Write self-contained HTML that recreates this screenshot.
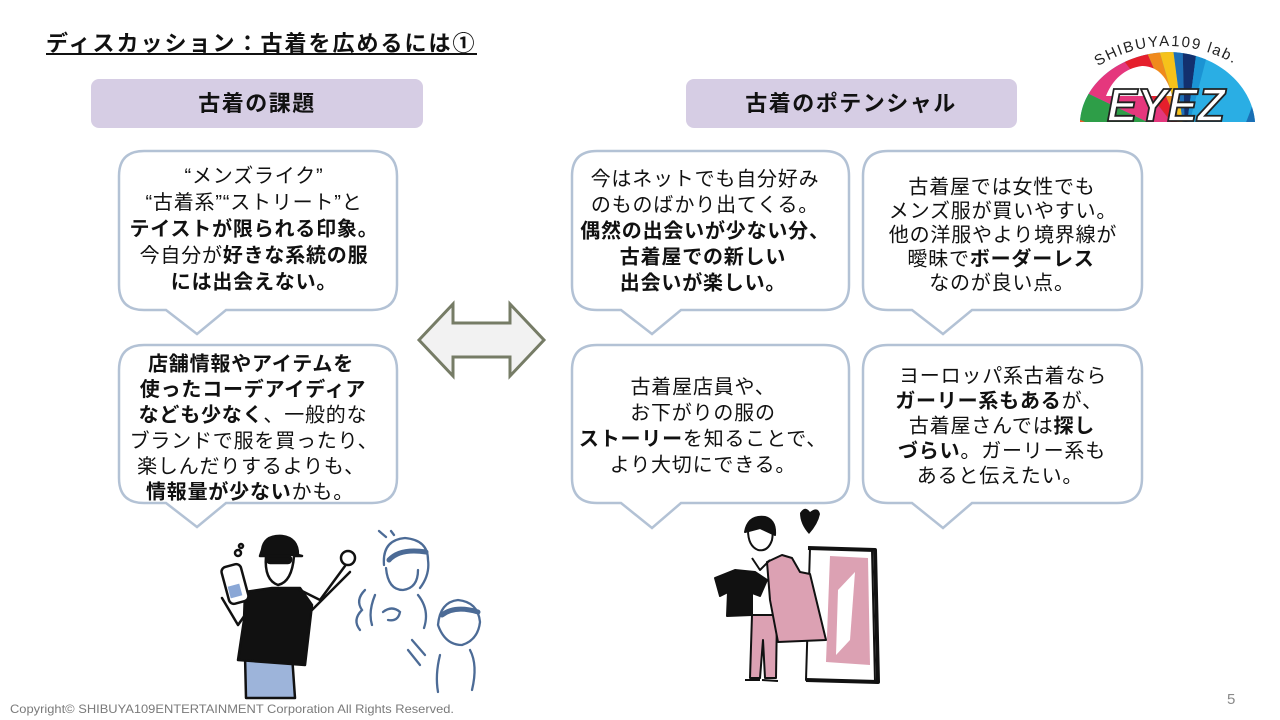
<!DOCTYPE html>
<html><head><meta charset="utf-8"><style>
html,body{margin:0;padding:0;background:#fff;}
svg{display:block;}
text{font-family:"Liberation Sans","Noto Sans CJK JP",sans-serif;}
.t{font-size:20px;letter-spacing:0.8px;fill:#111;text-anchor:middle;}
.b{font-weight:700;}
</style></head><body>
<svg width="1280" height="720" viewBox="0 0 1280 720" xmlns="http://www.w3.org/2000/svg">
<rect width="1280" height="720" fill="#fff"/>
<!-- title -->
<text x="46" y="51" style="font-size:22px;font-weight:700;letter-spacing:2px;fill:#111">ディスカッション：古着を広めるには①</text>
<rect x="46" y="53" width="431" height="2" fill="#111"/>
<!-- headers -->
<rect x="91" y="79" width="332" height="49" rx="8" fill="#d6cde4"/>
<text x="257" y="111" style="font-size:22px;font-weight:700;letter-spacing:1.5px;fill:#111;text-anchor:middle">古着の課題</text>
<rect x="686" y="79" width="331" height="49" rx="8" fill="#d6cde4"/>
<text x="851" y="111" style="font-size:22px;font-weight:700;letter-spacing:1.5px;fill:#111;text-anchor:middle">古着のポテンシャル</text>

<!-- bubbles -->
<g fill="#fff" stroke="#b3c2d5" stroke-width="2.5" stroke-linejoin="miter">
<path d="M144,151 H372 Q397,151 397,176 V285 Q397,310 372,310 H226 L197,334 L166,310 H144 Q119,310 119,285 V176 Q119,151 144,151 Z"/>
<path d="M144,345 H372 Q397,345 397,370 V478 Q397,503 372,503 H226 L197,527 L166,503 H144 Q119,503 119,478 V370 Q119,345 144,345 Z"/>
<path d="M597,151 H824 Q849,151 849,176 V285 Q849,310 824,310 H681 L652,334 L621,310 H597 Q572,310 572,285 V176 Q572,151 597,151 Z"/>
<path d="M597,345 H824 Q849,345 849,370 V478 Q849,503 824,503 H681 L652,528 L621,503 H597 Q572,503 572,478 V370 Q572,345 597,345 Z"/>
<path d="M888,151 H1117 Q1142,151 1142,176 V285 Q1142,310 1117,310 H972 L943,334 L912,310 H888 Q863,310 863,285 V176 Q863,151 888,151 Z"/>
<path d="M888,345 H1117 Q1142,345 1142,370 V478 Q1142,503 1117,503 H972 L943,528 L912,503 H888 Q863,503 863,478 V370 Q863,345 888,345 Z"/>
</g>

<!-- double arrow -->
<polygon points="419,340 453,304 453,323 510,323 510,304 544,340 510,376 510,357 453,357 453,376" fill="#f2f2f2" stroke="#767c66" stroke-width="3" stroke-linejoin="miter"/>

<!-- left top text -->
<text class="t" x="254" y="182.5">“メンズライク”</text>
<text class="t" x="254" y="209">“古着系”“ストリート”と</text>
<text class="t b" x="254" y="235.5">テイストが限られる印象。</text>
<text class="t" x="254" y="262">今自分が<tspan class="b">好きな系統の服</tspan></text>
<text class="t b" x="254" y="288.5">には出会えない。</text>

<!-- left bottom text -->
<text class="t b" x="251" y="370.5">店舗情報やアイテムを</text>
<text class="t b" x="253" y="396">使ったコーデアイディア</text>
<text class="t" x="253" y="421.7"><tspan class="b">なども少なく</tspan>、一般的な</text>
<text class="t" x="254" y="447.3">ブランドで服を買ったり、</text>
<text class="t" x="251" y="473">楽しんだりするよりも、</text>
<text class="t" x="250" y="498.5"><tspan class="b">情報量が少ない</tspan>かも。</text>

<!-- middle top -->
<text class="t" x="705" y="185.5">今はネットでも自分好み</text>
<text class="t" x="705" y="211.5">のものばかり出てくる。</text>
<text class="t b" x="705" y="237.5">偶然の出会いが少ない分、</text>
<text class="t b" x="703" y="263.5">古着屋での新しい</text>
<text class="t b" x="703" y="289.5">出会いが楽しい。</text>

<!-- middle bottom -->
<text class="t" x="703" y="393.5">古着屋店員や、</text>
<text class="t" x="703" y="419.5">お下がりの服の</text>
<text class="t" x="703" y="445.5"><tspan class="b">ストーリー</tspan>を知ることで、</text>
<text class="t" x="703" y="471.5">より大切にできる。</text>

<!-- right top -->
<text class="t" x="1002" y="193.5">古着屋では女性でも</text>
<text class="t" x="1003" y="217.5">メンズ服が買いやすい。</text>
<text class="t" x="1003" y="241.5">他の洋服やより境界線が</text>
<text class="t" x="1001" y="265.5">曖昧で<tspan class="b">ボーダーレス</tspan></text>
<text class="t" x="1002" y="289.5">なのが良い点。</text>

<!-- right bottom -->
<text class="t" x="1003" y="382.5">ヨーロッパ系古着なら</text>
<text class="t" x="999" y="407.5"><tspan class="b">ガーリー系もある</tspan>が、</text>
<text class="t" x="1002" y="432.5">古着屋さんでは<tspan class="b">探し</tspan></text>
<text class="t" x="1002" y="457.5"><tspan class="b">づらい</tspan>。ガーリー系も</text>
<text class="t" x="1000" y="482.5">あると伝えたい。</text>

<!-- logo -->
<defs>
<clipPath id="arch"><path d="M1080,122 C1082,84 1120,53 1168,52 C1215,52 1252,84 1255,122 Z"/></clipPath>
<path id="arcText" d="M1093,69.6 A131,131 0 0 1 1245,71"/>
</defs>
<g clip-path="url(#arch)">
<rect x="1070" y="30" width="200" height="100" fill="#2aaee4"/>
<polygon points="1185,140 1060,135 1060,80" fill="#2e9e48"/>
<polygon points="1185,140 1060,80 1100,30" fill="#e5377d"/>
<polygon points="1185,140 1100,30 1135,25" fill="#e51f2c"/>
<polygon points="1185,140 1135,25 1152,25" fill="#f08a1c"/>
<polygon points="1185,140 1152,25 1170,25" fill="#f6c21a"/>
<polygon points="1185,140 1170,25 1182,25" fill="#1f70b8"/>
<polygon points="1185,140 1182,25 1200,25" fill="#13306e"/>
<polygon points="1185,140 1200,25 1215,25" fill="#1b93d3"/>
<polygon points="1245,125 1270,60 1270,125" fill="#1a6fb5"/>
<polygon points="1060,135 1060,110 1085,122" fill="#ef5a2a"/>
<path d="M1106,96 C1112,80 1125,68 1142,66 C1158,66 1168,78 1172,96 Z" fill="#fff"/>
</g>
<text style="font-size:15px;fill:#222;letter-spacing:1.7px"><textPath href="#arcText" startOffset="6">SHIBUYA109 lab.</textPath></text>
<text x="1166" y="121" textLength="118" lengthAdjust="spacingAndGlyphs" style="font-size:46px;font-weight:900;font-style:italic;fill:#fff;stroke:#222;stroke-width:1.8;text-anchor:middle">EYEZ</text>

<!-- left illustration: man -->
<g stroke="#111" stroke-width="2.5" stroke-linecap="round" stroke-linejoin="round">
<polygon points="245,655 292,655 295,698 246,698" fill="#9db4da"/>
<path d="M262,550 Q264,535 282,536 Q298,538 298,555 L302,556 L260,556 Z" fill="#111"/>
<path d="M266,556 Q264,580 278,585 Q292,582 294,556" fill="#fff"/>
<rect x="267" y="556" width="24" height="7" rx="3" fill="#111"/>
<path d="M245,592 L272,588 L300,588 L312,605 L305,665 L238,660 L244,620 Z" fill="#111"/>
<path d="M300,590 L320,600 L345,566" fill="none"/>
<path d="M310,612 L350,572" fill="none"/>
<circle cx="348" cy="558" r="7" fill="#fff"/>
<rect x="225" y="565" width="20" height="38" rx="5" fill="#fff" transform="rotate(-15 235 584)"/>
<rect x="229" y="585" width="12" height="12" fill="#8aa7d6" stroke="none" transform="rotate(-15 235 591)"/>
<path d="M222,598 L238,625 L245,615" fill="none"/>
<circle cx="238" cy="553" r="3" fill="none"/>
<circle cx="241" cy="546" r="2" fill="none"/>
</g>
<!-- women -->
<g stroke="#4c6b96" stroke-width="2.3" fill="none" stroke-linecap="round">
<path d="M384,565 Q382,540 405,538 Q428,540 428,560 Q430,575 420,588"/>
<path d="M389,560 Q400,548 426,552" stroke-width="5"/>
<path d="M386,568 Q388,590 403,590 Q418,588 418,570"/>
<path d="M375,595 Q368,612 372,625 M418,595 Q430,610 424,628"/>
<path d="M383,612 Q392,605 400,612 Q398,622 388,620"/>
<path d="M365,590 Q355,600 362,610 Q352,620 360,630"/>
<path d="M379,531 L386,537 M391,531 L394,535"/>
<path d="M438,625 Q440,602 458,600 Q478,602 480,622 Q478,640 462,645 Q445,645 438,625"/>
<path d="M442,615 Q455,605 478,612" stroke-width="5"/>
<path d="M440,655 Q435,675 438,692 M470,650 Q478,665 472,690"/>
<path d="M412,640 L425,655 M408,650 L420,665"/>
</g>

<!-- right illustration: woman with mirror -->
<path d="M800,513 Q805,505 810,512 Q818,506 820,514 Q818,524 809,534 Q800,524 800,513 Z" fill="#111"/>
<g stroke="#111" stroke-width="2" stroke-linejoin="round">
<polygon points="810,548 872,550 875,682 806,680" fill="#fff"/>
<polygon points="830,556 868,558 870,665 826,662" fill="#dca1b3" stroke="none"/>
<polygon points="838,590 855,572 850,640 836,655" fill="#fff" stroke="none"/>
<path d="M808,548 L875,550 L878,682 L806,680" fill="none" stroke-width="4"/>
<polygon points="752,615 777,615 776,678 765,678 763,640 760,678 750,678" fill="#dca1b3"/>
<path d="M745,680 L760,680 M762,680 L778,681" />
<path d="M748,530 Q752,518 764,520 Q775,524 772,540 Q768,552 758,550 Q748,546 748,530 Z" fill="#fff"/>
<path d="M745,532 Q748,515 765,517 Q776,520 775,535 L760,528 Z" fill="#111"/>
<polygon points="715,578 735,570 755,572 767,580 760,596 752,593 752,615 727,616 728,592 720,596" fill="#111"/>
<polygon points="767,562 782,555 792,558 800,572 810,574 826,640 778,642 770,600" fill="#dca1b3"/>
<path d="M752,558 L760,570 L770,560" fill="none"/>
</g>

<!-- footer -->
<text x="10" y="713" textLength="444" lengthAdjust="spacingAndGlyphs" style="font-size:12px;fill:#7a7a7a">Copyright© SHIBUYA109ENTERTAINMENT Corporation All Rights Reserved.</text>
<text x="1227" y="704" style="font-size:15px;fill:#8a8a8a">5</text>
</svg>
</body></html>
